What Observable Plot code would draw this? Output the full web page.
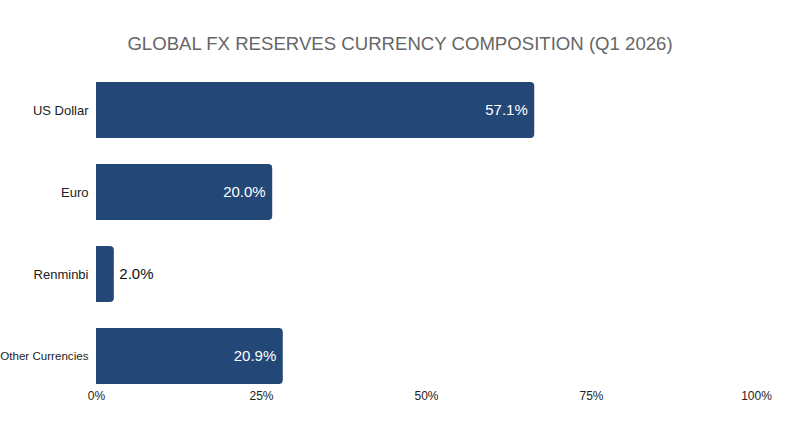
<!DOCTYPE html>
<html>
<head>
<meta charset="utf-8">
<script src="https://cdn.jsdelivr.net/npm/d3@7"></script>
<script src="https://cdn.jsdelivr.net/npm/@observablehq/plot@0.6"></script>
<style>
  html, body { margin: 0; padding: 0; background: #fff; }
  #title {
    width: 800px; height: 56px; box-sizing: border-box; padding-top: 32px;
    font-family: "Liberation Sans", Arial, sans-serif; font-size: 18.6px; line-height: 24px;
    color: #666; text-align: center;
  }
</style>
</head>
<body>
<div id="title">GLOBAL FX RESERVES CURRENCY COMPOSITION (Q1 2026)</div>
<div id="chart"></div>
<script>
const categories = ["US Dollar", "Euro", "Renminbi", "Other Currencies"];
// shares as labelled on the chart
const shares = [57.1, 20.0, 2.0, 20.9];
// bar extents as drawn on the chart's 0–100% axis
const barExtents = [66.4, 26.7, 2.7, 28.3];
const xTicks = [0, 25, 50, 75, 100];

const data = categories.map((c, i) => ({ category: c, share: shares[i], extent: barExtents[i] }));
const inside = data.filter(d => d.extent >= 8);
const outside = data.filter(d => d.extent < 8);

const font = "'Liberation Sans', Arial, sans-serif";

const chart = Plot.plot({
  width: 800,
  height: 391,
  marginTop: 21,
  marginBottom: 59,
  marginLeft: 96,
  marginRight: 44,
  style: { fontFamily: font, background: "#fff", overflow: "visible" },
  x: { domain: [0, 100], ticks: xTicks, tickFormat: d => d + "%", label: null },
  y: { domain: categories, padding: 0.32, paddingOuter: 0.05, label: null, axis: null },
  marks: [
    Plot.axisX({ ticks: xTicks, tickFormat: d => d + "%", tickSize: 0, tickPadding: 3, fontSize: 12, fill: "#222", label: null }),
    Plot.barX(data, { x: "extent", y: "category", fill: "#234777", rx2: 4 }),
    Plot.text(categories, {
      x: 0, y: d => d, text: d => d, textAnchor: "end", dx: -8,
      fontSize: d => d.length > 12 ? 11.6 : 13, fill: "#222"
    }),
    Plot.text(inside, {
      x: "extent", y: "category", text: d => d.share.toFixed(1) + "%",
      textAnchor: "end", dx: -7, fill: "#fff", fontSize: 15
    }),
    Plot.text(outside, {
      x: "extent", y: "category", text: d => d.share.toFixed(1) + "%",
      textAnchor: "start", dx: 5, fill: "#111", fontSize: 15
    })
  ]
});
document.getElementById("chart").append(chart);
</script>
</body>
</html>
